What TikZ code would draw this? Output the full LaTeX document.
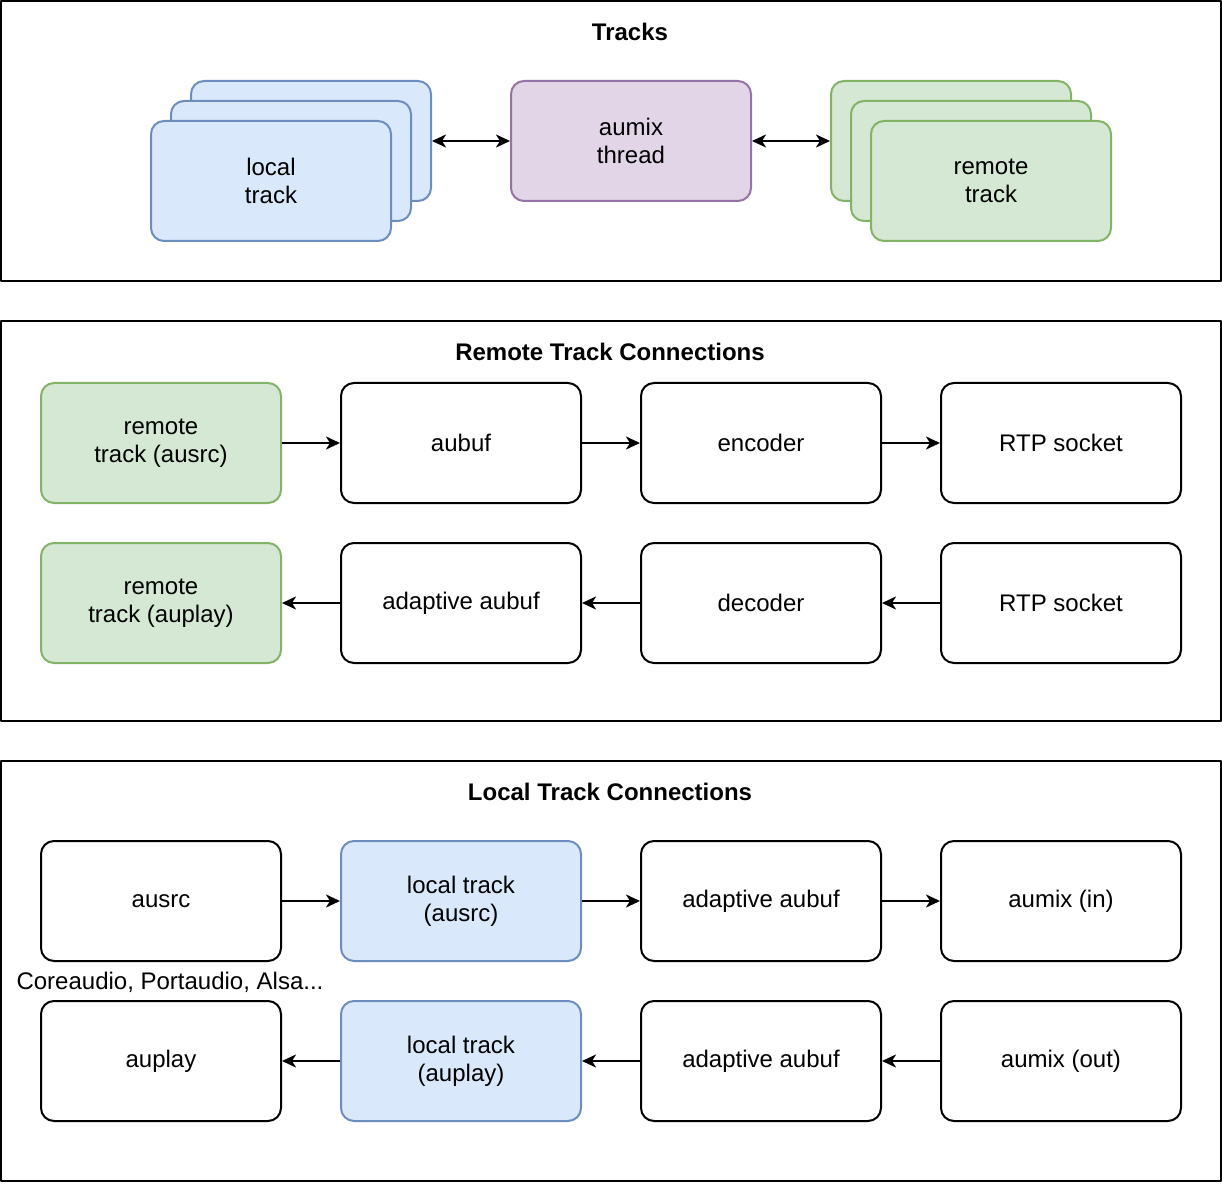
\documentclass[tikz,border=0pt]{standalone}
\usepackage{fontspec}
\setmainfont{Liberation Sans}
\usetikzlibrary{arrows.meta,positioning}
\definecolor{bluefill}{HTML}{DAE8FC}
\definecolor{bluedraw}{HTML}{6C8EBF}
\definecolor{greenfill}{HTML}{D5E8D4}
\definecolor{greendraw}{HTML}{82B366}
\definecolor{violetfill}{HTML}{E1D5E7}
\definecolor{violetdraw}{HTML}{9673A6}
\tikzset{
  box/.style={draw, rounded corners=6.5pt, minimum width=120pt, minimum height=60pt,
    align=center, inner sep=2pt, font=\fontsize{12}{14}\selectfont},
  localbox/.style={box, fill=bluefill, draw=bluedraw},
  remotebox/.style={box, fill=greenfill, draw=greendraw},
  mixbox/.style={box, fill=violetfill, draw=violetdraw},
  frametitle/.style={font=\fontsize{12}{14}\selectfont\bfseries},
}
\begin{document}
\begin{tikzpicture}[x=0.5pt,y=-0.5pt,line join=round,>={Stealth[length=7pt,width=6.5pt,inset=2pt]},line width=1pt]
\useasboundingbox (0,0) rectangle (1222,1198);
% frames
\draw (1,1) rectangle (1221,281);
\draw (1,321) rectangle (1221,721);
\draw (1,761) rectangle (1221,1181);
\node[frametitle] (ttracks) at (630,32) {Tracks};
\node[frametitle] (tremote) at (610,352) {Remote Track Connections};
\node[frametitle] (tlocal) at (610,792) {Local Track Connections};
% tracks
\node[localbox] (lt3) at (311,141) {};
\node[localbox] (lt2) at (291,161) {};
\node[localbox] (lt1) at (271,181) {local\\track};
\node[mixbox] (mix) at (631,141) {aumix\\thread};
\node[remotebox] (rt3) at (951,141) {};
\node[remotebox] (rt2) at (971,161) {};
\node[remotebox] (rt1) at (991,181) {remote\\track};
\draw[<->] (lt3) -- (mix);
\draw[<->] (mix) -- (rt3);
% remote track connections
\node[remotebox] (rsrc) at (161,443) {remote\\track (ausrc)};
\node[box] (rbuf) at (461,443) {aubuf};
\node[box] (renc) at (761,443) {encoder};
\node[box] (rtx) at (1061,443) {RTP socket};
\node[remotebox] (rplay) at (161,603) {remote\\track (auplay)};
\node[box] (rabuf) at (461,603) {adaptive aubuf};
\node[box] (rdec) at (761,603) {decoder};
\node[box] (rrx) at (1061,603) {RTP socket};
\draw[->] (rsrc) -- (rbuf);
\draw[->] (rbuf) -- (renc);
\draw[->] (renc) -- (rtx);
\draw[->] (rrx) -- (rdec);
\draw[->] (rdec) -- (rabuf);
\draw[->] (rabuf) -- (rplay);
% local track connections
\node[box] (src) at (161,901) {ausrc};
\node[localbox] (lsrc) at (461,901) {local track\\(ausrc)};
\node[box] (labuf1) at (761,901) {adaptive aubuf};
\node[box] (mixin) at (1061,901) {aumix (in)};
\node[box] (play) at (161,1061) {auplay};
\node[localbox] (lplay) at (461,1061) {local track\\(auplay)};
\node[box] (labuf2) at (761,1061) {adaptive aubuf};
\node[box] (mixout) at (1061,1061) {aumix (out)};
\node[font=\fontsize{12}{14}\selectfont] (drivers) at (170,982) {Coreaudio, Portaudio, Alsa...};
\draw[->] (src) -- (lsrc);
\draw[->] (lsrc) -- (labuf1);
\draw[->] (labuf1) -- (mixin);
\draw[->] (mixout) -- (labuf2);
\draw[->] (labuf2) -- (lplay);
\draw[->] (lplay) -- (play);
\end{tikzpicture}
\end{document}
